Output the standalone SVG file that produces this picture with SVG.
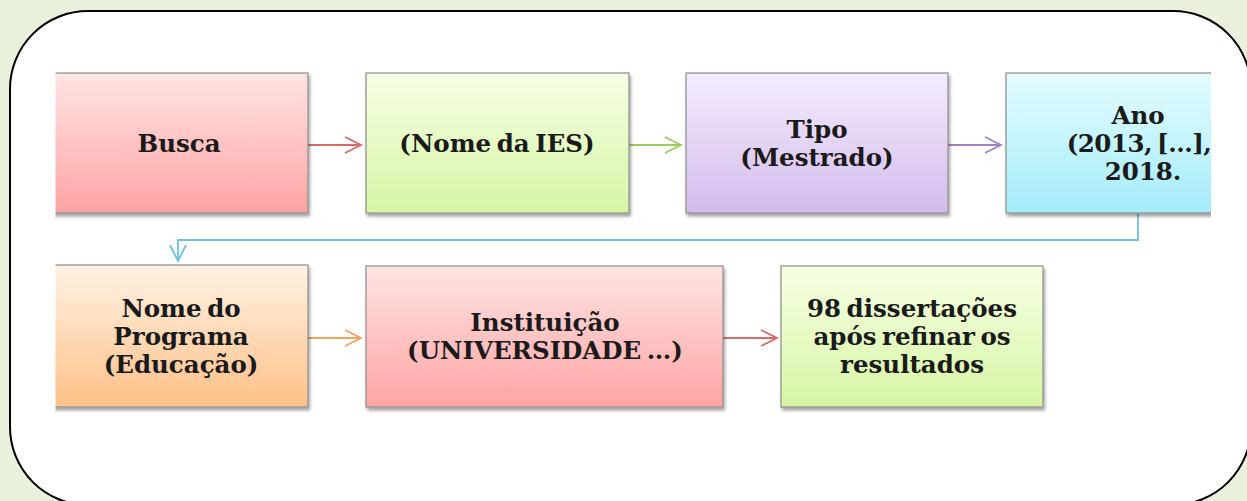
<svg xmlns="http://www.w3.org/2000/svg" width="1247" height="501" viewBox="0 0 1247 501">
<style>
.box{stroke:#8c8c8c;stroke-width:1.2;filter:url(#sh)}
.t{font-family:"DejaVu Serif","Liberation Serif",serif;font-weight:bold;font-size:24.5px;fill:#1a1a1a;text-anchor:middle;word-spacing:-3px}
.c{fill:none;stroke-width:1.8}
</style>
<defs>
<filter id="sh" x="-10%" y="-10%" width="125%" height="130%">
<feDropShadow dx="1.5" dy="3" stdDeviation="1.8" flood-color="#000" flood-opacity="0.35"/>
</filter>
<linearGradient id="gRed" x1="0" y1="0" x2="0" y2="1"><stop offset="0" stop-color="#FFE4E4"/><stop offset="1" stop-color="#FFA3A3"/></linearGradient>
<linearGradient id="gGreen" x1="0" y1="0" x2="0" y2="1"><stop offset="0" stop-color="#F6FFE4"/><stop offset="1" stop-color="#D6F5A4"/></linearGradient>
<linearGradient id="gPurple" x1="0" y1="0" x2="0" y2="1"><stop offset="0" stop-color="#F4ECFD"/><stop offset="1" stop-color="#D4BCEB"/></linearGradient>
<linearGradient id="gBlue" x1="0" y1="0" x2="0" y2="1"><stop offset="0" stop-color="#E4FCFF"/><stop offset="1" stop-color="#A4ECF9"/></linearGradient>
<linearGradient id="gOrange" x1="0" y1="0" x2="0" y2="1"><stop offset="0" stop-color="#FFF2E4"/><stop offset="1" stop-color="#FFC088"/></linearGradient>
<marker id="mRed" markerWidth="20" markerHeight="20" refX="17" refY="9" orient="auto" markerUnits="userSpaceOnUse"><path d="M1,1 L17,9 L1,17" fill="none" stroke="#D46A6A" stroke-width="1.8"/></marker>
<marker id="mGreen" markerWidth="20" markerHeight="20" refX="17" refY="9" orient="auto" markerUnits="userSpaceOnUse"><path d="M1,1 L17,9 L1,17" fill="none" stroke="#9CCB5E" stroke-width="1.8"/></marker>
<marker id="mPurple" markerWidth="20" markerHeight="20" refX="17" refY="9" orient="auto" markerUnits="userSpaceOnUse"><path d="M1,1 L17,9 L1,17" fill="none" stroke="#9F82C4" stroke-width="1.8"/></marker>
<marker id="mBlue" markerWidth="20" markerHeight="20" refX="17" refY="9" orient="auto" markerUnits="userSpaceOnUse"><path d="M1,1 L17,9 L1,17" fill="none" stroke="#6EC2DB" stroke-width="1.8"/></marker>
<marker id="mOrange" markerWidth="20" markerHeight="20" refX="17" refY="9" orient="auto" markerUnits="userSpaceOnUse"><path d="M1,1 L17,9 L1,17" fill="none" stroke="#F9A25C" stroke-width="1.8"/></marker>
<clipPath id="clip"><rect x="55.5" y="0" width="1155.5" height="501"/></clipPath>
</defs>
<rect x="0" y="0" width="1247" height="501" fill="#E9F0DC"/>
<rect id="frame" x="10" y="11" width="1241" height="494" rx="78" ry="78" fill="#fff" stroke="#000" stroke-width="2"/>
<g clip-path="url(#clip)">
<g id="connectors">
<line class="c" x1="308" y1="145" x2="361" y2="145" stroke="#D46A6A" marker-end="url(#mRed)"/>
<line class="c" x1="629" y1="145" x2="681" y2="145" stroke="#9CCB5E" marker-end="url(#mGreen)"/>
<line class="c" x1="948" y1="145" x2="1001" y2="145" stroke="#9F82C4" marker-end="url(#mPurple)"/>
<polyline class="c" points="1138,213 1138,240 178,240 178,261" stroke="#6EC2DB" marker-end="url(#mBlue)"/>
<line class="c" x1="308" y1="338" x2="361" y2="338" stroke="#F9A25C" marker-end="url(#mOrange)"/>
<line class="c" x1="723" y1="338" x2="777" y2="338" stroke="#D46A6A" marker-end="url(#mRed)"/>
</g>
<g id="busca"><rect class="box" x="50" y="73" width="258" height="140" fill="url(#gRed)"/><text class="t" x="179" y="152">Busca</text></g>
<g id="ies"><rect class="box" x="366" y="73" width="263" height="140" fill="url(#gGreen)"/><text class="t" x="497" y="152">(Nome da IES)</text></g>
<g id="tipo"><rect class="box" x="686" y="73" width="262" height="140" fill="url(#gPurple)"/><text class="t" x="817" y="138">Tipo</text><text class="t" x="817" y="166">(Mestrado)</text></g>
<g id="ano"><rect class="box" x="1006" y="73" width="263" height="140" fill="url(#gBlue)"/><text class="t" x="1138" y="124">Ano</text><text class="t" x="1139" y="152" letter-spacing="-0.5">(2013, […],</text><text class="t" x="1143" y="180">2018.</text></g>
<g id="programa"><rect class="box" x="50" y="265" width="258" height="142" fill="url(#gOrange)"/><text class="t" x="181" y="317">Nome do</text><text class="t" x="181" y="345">Programa</text><text class="t" x="181" y="373">(Educação)</text></g>
<g id="instituicao"><rect class="box" x="366" y="266" width="357" height="141" fill="url(#gRed)"/><text class="t" x="545" y="331">Instituição</text><text class="t" x="545" y="359">(UNIVERSIDADE …)</text></g>
<g id="resultado"><rect class="box" x="781" y="266" width="262" height="141" fill="url(#gGreen)"/><text class="t" x="912" y="317">98 dissertações</text><text class="t" x="912" y="345">após refinar os</text><text class="t" x="912" y="373">resultados</text></g>
</g>
</svg>
